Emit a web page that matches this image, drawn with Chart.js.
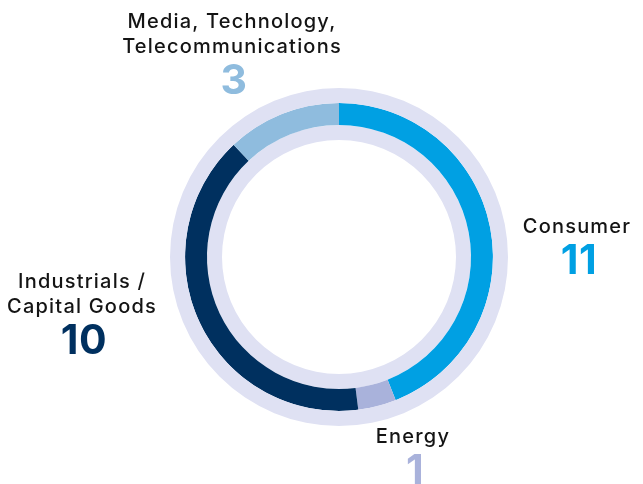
<!DOCTYPE html>
<html>
<head>
<meta charset="utf-8">
<script src="https://cdn.jsdelivr.net/npm/chart.js@4/dist/chart.umd.min.js"></script>
<style>
  body { margin: 0; background: #fff; }
  #wrap { width: 643px; height: 484px; }
</style>
</head>
<body>
<div id="wrap"><canvas id="myChart" width="643" height="484"></canvas></div>
<script>

// sectors, clockwise from 12 o'clock
sectors = ['Consumer', 'Energy', 'Industrials / Capital Goods', 'Media, Technology, Telecommunications']
label_lines = [['Consumer'], ['Energy'], ['Industrials /', 'Capital Goods'], ['Media, Technology,', 'Telecommunications']]
counts = [11, 1, 10, 3]
colors = ['#00a0e3', '#a9b2db', '#00305f', '#8fbcde']
track = '#dfe1f3'

// where each label sits, relative to the ring centre (x = text centre, y = first baseline)
label_spots = [[238, -24], [74, 186], [-257, 31], [-107, -229]]

const labelPlugin = {
  id: 'sectorLabels',
  afterDraw(chart) {
    const ctx = chart.ctx
    const arc = chart.getDatasetMeta(1).data[0]
    const cx = arc.x, cy = arc.y
    ctx.save()
    ctx.textAlign = 'center'
    ctx.textBaseline = 'alphabetic'
    for (i = 0; i < sectors.length; i++) {
      x = cx + label_spots[i][0]
      y = cy + label_spots[i][1]
      ctx.fillStyle = '#141414'
      ctx.font = '500 20px Inter'
      ctx.letterSpacing = '1.2px'
      label_lines[i].forEach(function (line, j) {
        ctx.fillText(line, x, y + j * 25)
      })
      ctx.fillStyle = colors[i]
      ctx.font = '700 41px Inter'
      ctx.letterSpacing = '0.5px'
      ctx.fillText(String(counts[i]), x + 2, y + (label_lines[i].length - 1) * 25 + 41)
    }
    ctx.restore()
  }
}

const ctx = document.getElementById('myChart').getContext('2d')
const myChart = new Chart(ctx, {
  type: 'doughnut',
  data: {
    labels: sectors,
    datasets: [{
      // outer pale track
      data: [1],
      backgroundColor: [track],
      borderWidth: 0,
      weight: 15
    }, {
      data: counts,
      backgroundColor: colors,
      borderWidth: 0,
      weight: 22
    }, {
      // inner pale track
      data: [1],
      backgroundColor: [track],
      borderWidth: 0,
      weight: 15
    }]
  },
  options: {
    responsive: false,
    animation: false,
    cutout: 117,
    layout: { padding: { left: 170, right: 135, top: 88, bottom: 58 } },
    plugins: {
      legend: { display: false },
      tooltip: { enabled: false }
    }
  },
  plugins: [labelPlugin]
})

</script>
</body>
</html>
